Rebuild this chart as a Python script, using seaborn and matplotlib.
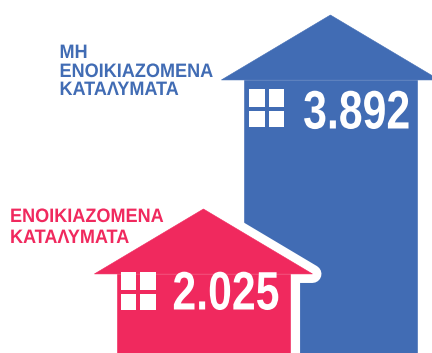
import numpy as np
import pandas as pd
import matplotlib
matplotlib.use("Agg")
import matplotlib.pyplot as plt
from matplotlib.patches import Polygon, Rectangle
from matplotlib.patheffects import AbstractPathEffect
from matplotlib.transforms import Affine2D
import seaborn as sns

categories = ["ΕΝΟΙΚΙΑΖΟΜΕΝΑ ΚΑΤΑΛΥΜΑΤΑ", "ΜΗ ΕΝΟΙΚΙΑΖΟΜΕΝΑ ΚΑΤΑΛΥΜΑΤΑ"]
values = [2025, 3892]
value_labels = ["2.025", "3.892"]
label_lines = [["ΕΝΟΙΚΙΑΖΟΜΕΝΑ", "ΚΑΤΑΛΥΜΑΤΑ"], ["ΜΗ", "ΕΝΟΙΚΙΑΖΟΜΕΝΑ", "ΚΑΤΑΛΥΜΑΤΑ"]]
colors = ["#F0295E", "#416CB4"]

W, H = 432, 353


class Squeeze(AbstractPathEffect):
    """Narrow a real text horizontally about its left or right end."""
    def __init__(self, sx, anchor="left"):
        super().__init__()
        self.sx = sx
        self.anchor = anchor

    def draw_path(self, renderer, gc, tpath, affine, rgbFace=None):
        x0 = tpath.vertices[:, 0].max() if self.anchor == "right" else 0
        squeeze = Affine2D().translate(-x0, 0).scale(self.sx, 1).translate(x0, 0)
        renderer.draw_path(gc, tpath, squeeze + affine, rgbFace)


sns.set_theme(style="white")
fig = plt.figure(figsize=(W / 100, H / 100), dpi=100)
ax = fig.add_axes([0, 0, 1, 1])

# Pictogram scale: roof apex sits at the value
ROOF = 625            # data units
OVERLAP = 10          # body runs slightly under the roof, so no seam shows
BAR_WIDTH = 1.38
ROOF_WIDTH = 1.717
df = pd.DataFrame({"cat": categories, "body": np.array(values) - ROOF + OVERLAP})
sns.barplot(data=df, x="cat", y="body", hue="cat", palette=colors, saturation=1,
            width=BAR_WIDTH, legend=False, dodge=False, ax=ax, zorder=2)
ax.set_xlim(-1.602, 1.80)
ax.set_ylim(639, 639 + H / 0.1039)
ax.axis("off")

px = Affine2D().scale(1, -1).translate(0, H)

for i, (v, c) in enumerate(zip(values, colors)):
    roof_pts = [(i - ROOF_WIDTH / 2, v - ROOF), (i, v), (i + ROOF_WIDTH / 2, v - ROOF)]
    z = 4 - i
    if i == 0:
        halo = [(i - BAR_WIDTH / 2, 0), (i - BAR_WIDTH / 2, v - ROOF)] + roof_pts + \
               [(i + BAR_WIDTH / 2, v - ROOF), (i + BAR_WIDTH / 2, 0)]
        ax.add_patch(Polygon(halo, closed=True, fc="white", ec="white", lw=13,
                             joinstyle="round", zorder=z - 0.2))
    ax.add_patch(Polygon(roof_pts, closed=True, fc=c, ec=c, lw=0.4, zorder=z + 0.1))
    ax.patches[i].set_zorder(z)

# window icons and numbers
window_xy = [(120.7, 272), (249, 89)]
number_xy = [(279.5, 309.5), (410.5, 128.5)]
for (wx, wy), (nx, ny), lab in zip(window_xy, number_xy, value_labels):
    for dx in (0, 19.6):
        for dy, h in ((0, 17.8), (21.6, 16.2)):
            ax.add_patch(Rectangle((wx + dx, wy + dy), 15.7, h, fc="white", ec="none",
                                   transform=px, zorder=8))
    t = ax.text(nx, ny, lab, transform=px, color="white", fontsize=39, fontweight="bold",
                family="Liberation Sans", ha="right", va="baseline", zorder=9)
    t.set_path_effects([Squeeze(0.79, anchor="right")])

# category labels
label_xy = [(10, [222, 243]), (59.5, [58, 77, 95])]
for (lx, ys), lines, c in zip(label_xy, label_lines, colors):
    for y, line in zip(ys, lines):
        t = ax.text(lx, y, line, transform=px, color=c, fontsize=14, fontweight="bold",
                    family="Liberation Sans", ha="left", va="baseline", zorder=9)
        t.set_path_effects([Squeeze(0.93)])

fig.savefig("out.png", dpi=100)
